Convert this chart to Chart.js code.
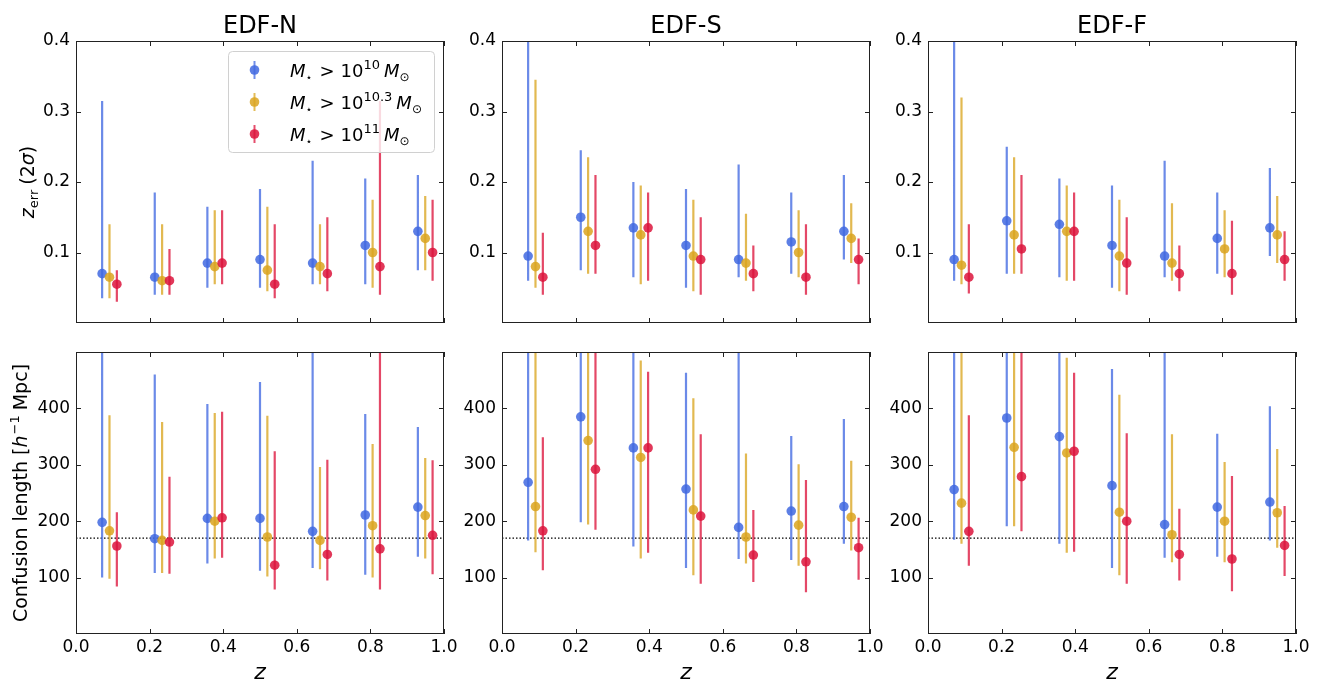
<!DOCTYPE html>
<html>
<head>
<meta charset="utf-8">
<script src="https://cdn.jsdelivr.net/npm/chart.js@4.4.0/dist/chart.umd.min.js"></script>
<style>
html, body { margin: 0; padding: 0; background: #fff; }
#wrap { position: relative; width: 1323px; height: 682px; }
#wrap canvas { position: absolute; left: 0; top: 0; }
</style>
</head>
<body>
<div id="wrap"></div>
<script>
// redshift bins, mass-cut offsets, ticks
const zBins = [0.071, 0.214, 0.357, 0.5, 0.643, 0.786, 0.929];
const massOffsets = [0, 0.02, 0.04];
const massLabels = ['10', '10.3', '11'];
const fields = ['EDF-N', 'EDF-S', 'EDF-F'];
const xTicks = [0, 0.2, 0.4, 0.6, 0.8, 1.0];
const zerrTicks = [0.1, 0.2, 0.3, 0.4];
const confTicks = [100, 200, 300, 400];
const confRef = 170;

// z_err (2 sigma); rows: M > 1e10, 1e10.3, 1e11
const zerrN    = [[0.070, 0.065, 0.085, 0.090, 0.085, 0.110, 0.130],
                  [0.065, 0.060, 0.080, 0.075, 0.080, 0.100, 0.120],
                  [0.055, 0.060, 0.085, 0.055, 0.070, 0.080, 0.100]];
const zerrN_lo = [[0.035, 0.040, 0.050, 0.050, 0.055, 0.055, 0.075],
                  [0.035, 0.040, 0.055, 0.045, 0.055, 0.050, 0.075],
                  [0.030, 0.040, 0.055, 0.035, 0.045, 0.040, 0.060]];
const zerrN_hi = [[0.315, 0.185, 0.165, 0.190, 0.230, 0.205, 0.210],
                  [0.140, 0.140, 0.160, 0.165, 0.140, 0.175, 0.180],
                  [0.075, 0.105, 0.160, 0.140, 0.150, 0.315, 0.175]];

const zerrS    = [[0.095, 0.150, 0.135, 0.110, 0.090, 0.115, 0.130],
                  [0.080, 0.130, 0.125, 0.095, 0.085, 0.100, 0.120],
                  [0.065, 0.110, 0.135, 0.090, 0.070, 0.065, 0.090]];
const zerrS_lo = [[0.060, 0.075, 0.065, 0.050, 0.065, 0.070, 0.090],
                  [0.050, 0.070, 0.055, 0.045, 0.060, 0.065, 0.085],
                  [0.040, 0.070, 0.060, 0.040, 0.045, 0.040, 0.055]];
const zerrS_hi = [[0.450, 0.245, 0.200, 0.190, 0.225, 0.185, 0.210],
                  [0.345, 0.235, 0.195, 0.175, 0.155, 0.160, 0.170],
                  [0.128, 0.210, 0.185, 0.150, 0.110, 0.140, 0.120]];

const zerrF    = [[0.090, 0.145, 0.140, 0.110, 0.095, 0.120, 0.135],
                  [0.082, 0.125, 0.130, 0.095, 0.085, 0.105, 0.125],
                  [0.065, 0.105, 0.130, 0.085, 0.070, 0.070, 0.090]];
const zerrF_lo = [[0.060, 0.070, 0.065, 0.050, 0.065, 0.070, 0.095],
                  [0.055, 0.070, 0.060, 0.045, 0.060, 0.065, 0.085],
                  [0.042, 0.070, 0.060, 0.040, 0.045, 0.040, 0.060]];
const zerrF_hi = [[0.450, 0.250, 0.205, 0.195, 0.230, 0.185, 0.220],
                  [0.320, 0.235, 0.195, 0.175, 0.170, 0.160, 0.180],
                  [0.140, 0.210, 0.185, 0.150, 0.110, 0.145, 0.130]];

// confusion length [h^-1 Mpc]
const confN    = [[198, 169, 205, 205, 182, 211, 225],
                  [183, 166, 200, 172, 166, 192, 210],
                  [156, 163, 206, 122, 141, 151, 175]];
const confN_lo = [[100, 108, 125, 112, 117, 105, 137],
                  [ 98, 108, 134, 102, 115, 100, 134],
                  [ 84, 107, 135,  79,  95,  79, 106]];
const confN_hi = [[560, 460, 408, 447, 560, 390, 367],
                  [388, 376, 392, 387, 296, 337, 312],
                  [216, 279, 394, 324, 309, 560, 308]];

const confS    = [[269, 385, 330, 257, 189, 218, 226],
                  [226, 343, 313, 220, 172, 193, 207],
                  [183, 292, 330, 209, 140, 128, 153]];
const confS_lo = [[166, 198, 155, 117, 133, 131, 160],
                  [145, 194, 134, 104, 125, 121, 148],
                  [113, 185, 144,  89,  92,  74,  96]];
const confS_hi = [[560, 560, 560, 463, 560, 351, 381],
                  [560, 560, 485, 418, 320, 301, 307],
                  [349, 560, 465, 354, 220, 273, 206]];

const confF    = [[256, 383, 350, 263, 194, 225, 234],
                  [232, 331, 321, 216, 176, 200, 215],
                  [182, 279, 324, 200, 141, 133, 157]];
const confF_lo = [[167, 191, 160, 117, 135, 137, 166],
                  [160, 191, 144, 104, 127, 127, 153],
                  [121, 182, 146,  89,  95,  76, 103]];
const confF_hi = [[560, 560, 560, 470, 560, 355, 404],
                  [560, 560, 490, 424, 354, 305, 328],
                  [388, 560, 463, 356, 222, 280, 227]];

const W = 1323, H = 682;
const colLeft = [76, 502, 928], colRight = [444, 870, 1296];
const rowTop = [41, 352], rowBottom = [323, 634];
const YW = 60, XH = 30;
const FONT = "'DejaVu Sans'";
const rgb = ['65,105,225', '218,165,32', '220,20,60'];

function richWidth(ctx, parts) {
  let w = 0;
  parts.forEach(p => { ctx.font = p.font; w += ctx.measureText(p.t).width + (p.gap || 0); });
  return w;
}
function drawRich(ctx, parts, x, y) {
  let cx = x;
  parts.forEach(p => {
    ctx.font = p.font;
    ctx.fillText(p.t, cx, y + (p.dy || 0));
    cx += ctx.measureText(p.t).width + (p.gap || 0);
  });
}

const zerrLabel = [
  {t: 'z', font: `italic 19px ${FONT}`},
  {t: 'err', font: `13px ${FONT}`, dy: 4, gap: 5},
  {t: '(2', font: `19px ${FONT}`},
  {t: 'σ', font: `italic 19px ${FONT}`},
  {t: ')', font: `19px ${FONT}`}
];
const confLabel = [
  {t: 'Confusion length [', font: `19px ${FONT}`},
  {t: 'h', font: `italic 19px ${FONT}`, gap: 1},
  {t: '−1', font: `13px ${FONT}`, dy: -8, gap: 5},
  {t: 'Mpc]', font: `19px ${FONT}`}
];
function legendParts(exp) {
  return [
    {t: 'M', font: `italic 18px ${FONT}`},
    {t: '⋆', font: `11px ${FONT}`, dy: 4, gap: 7},
    {t: '>', font: `18px ${FONT}`, gap: 6},
    {t: '10', font: `18px ${FONT}`},
    {t: exp, font: `13px ${FONT}`, dy: -8, gap: 4},
    {t: 'M', font: `italic 18px ${FONT}`},
    {t: '⊙', font: `12px ${FONT}`, dy: 4}
  ];
}

const decor = {
  id: 'decor',
  afterDatasetsDraw(chart, args, opts) {
    const {ctx, chartArea: a, scales: {x, y}} = chart;
    ctx.save();
    ctx.strokeStyle = '#222';
    ctx.lineWidth = 1;
    ctx.beginPath();
    x.ticks.forEach(t => {
      const px = Math.round(x.getPixelForValue(t.value)) + 0.5;
      ctx.moveTo(px, a.bottom); ctx.lineTo(px, a.bottom - 5);
      ctx.moveTo(px, a.top); ctx.lineTo(px, a.top + 5);
    });
    y.ticks.forEach(t => {
      const py = Math.round(y.getPixelForValue(t.value)) + 0.5;
      ctx.moveTo(a.left, py); ctx.lineTo(a.left + 5, py);
      ctx.moveTo(a.right, py); ctx.lineTo(a.right - 5, py);
    });
    ctx.stroke();
    ctx.strokeRect(Math.round(a.left) + 0.5, Math.round(a.top) + 0.5,
                   Math.round(a.right - a.left) - 1, Math.round(a.bottom - a.top) - 1);

    ctx.fillStyle = '#000';
    ctx.textBaseline = 'alphabetic';
    const cx = (a.left + a.right) / 2;
    if (opts.title) {
      ctx.font = `24px ${FONT}`;
      ctx.textAlign = 'center';
      ctx.fillText(opts.title, cx, 33);
    }
    ctx.textAlign = 'left';
    if (opts.xlabel) {
      ctx.font = `italic 22px ${FONT}`;
      ctx.textAlign = 'center';
      ctx.fillText('z', cx, 679);
      ctx.textAlign = 'left';
    }
    if (opts.ylabel) {
      const parts = opts.ylabel === 'zerr' ? zerrLabel : confLabel;
      const bx = opts.ylabel === 'zerr' ? 34 : 27;
      const w = richWidth(ctx, parts);
      ctx.save();
      ctx.translate(bx, (a.top + a.bottom) / 2);
      ctx.rotate(-Math.PI / 2);
      drawRich(ctx, parts, -w / 2, 0);
      ctx.restore();
    }
    if (opts.legend) {
      const lx = 228, ly = 51, lw = 206, lh = 101;
      ctx.beginPath();
      ctx.roundRect(lx + 0.5, ly + 0.5, lw, lh, 4);
      ctx.fillStyle = 'rgba(255,255,255,0.8)';
      ctx.fill();
      ctx.strokeStyle = '#d0d0d0';
      ctx.stroke();
      massLabels.forEach((lab, m) => {
        const yy = 70 + m * 32;
        ctx.strokeStyle = `rgba(${rgb[m]},0.75)`;
        ctx.lineWidth = 2;
        ctx.beginPath();
        ctx.moveTo(254.5, yy - 9); ctx.lineTo(254.5, yy + 9);
        ctx.stroke();
        ctx.fillStyle = `rgba(${rgb[m]},0.85)`;
        ctx.beginPath();
        ctx.arc(254.5, yy, 4.8, 0, Math.PI * 2);
        ctx.fill();
        ctx.fillStyle = '#000';
        drawRich(ctx, legendParts(lab), 290, yy + 7);
      });
    }
    ctx.restore();
  }
};

function buildDatasets(vals, lo, hi) {
  const ds = [];
  for (let m = 0; m < 3; m++) {
    const bars = [], pts = [];
    zBins.forEach((z, i) => {
      const xv = z + massOffsets[m];
      bars.push({x: xv, y: lo[m][i]}, {x: xv, y: hi[m][i]}, {x: xv, y: null});
      pts.push({x: xv, y: vals[m][i]});
    });
    ds.push({
      type: 'line', data: bars, showLine: true, spanGaps: false,
      borderColor: `rgba(${rgb[m]},0.78)`, borderWidth: 2.2,
      pointRadius: 0, clip: 0, order: 6 - 2 * m
    });
    ds.push({
      type: 'scatter', data: pts,
      backgroundColor: `rgba(${rgb[m]},0.85)`, borderWidth: 0,
      pointRadius: 4.8, clip: 0, order: 5 - 2 * m
    });
  }
  return ds;
}

const panels = [
  {r: 0, c: 0, v: zerrN, lo: zerrN_lo, hi: zerrN_hi},
  {r: 0, c: 1, v: zerrS, lo: zerrS_lo, hi: zerrS_hi},
  {r: 0, c: 2, v: zerrF, lo: zerrF_lo, hi: zerrF_hi},
  {r: 1, c: 0, v: confN, lo: confN_lo, hi: confN_hi},
  {r: 1, c: 1, v: confS, lo: confS_lo, hi: confS_hi},
  {r: 1, c: 2, v: confF, lo: confF_lo, hi: confF_hi}
];

const wrap = document.getElementById('wrap');
panels.forEach(p => {
  const canvas = document.createElement('canvas');
  canvas.width = W; canvas.height = H;
  canvas.style.width = W + 'px'; canvas.style.height = H + 'px';
  wrap.appendChild(canvas);

  const top = p.r === 0;
  const datasets = buildDatasets(p.v, p.lo, p.hi);
  if (!top) {
    datasets.push({
      type: 'line', data: [{x: 0, y: confRef}, {x: 1, y: confRef}],
      borderColor: '#000', borderWidth: 1.3, borderDash: [1.5, 2],
      pointRadius: 0, order: 7
    });
  }

  new Chart(canvas, {
    type: 'scatter',
    data: {datasets},
    options: {
      responsive: false,
      animation: false,
      events: [],
      layout: {padding: {
        left: colLeft[p.c] - YW, right: W - colRight[p.c],
        top: rowTop[p.r], bottom: H - rowBottom[p.r] - XH
      }},
      plugins: {
        legend: {display: false},
        tooltip: {enabled: false},
        decor: {
          title: top ? fields[p.c] : null,
          xlabel: !top,
          ylabel: p.c === 0 ? (top ? 'zerr' : 'conf') : null,
          legend: top && p.c === 0
        }
      },
      scales: {
        x: {
          type: 'linear', min: 0, max: 1,
          grid: {display: false, drawTicks: false},
          border: {display: false},
          afterBuildTicks: s => { s.ticks = xTicks.map(v => ({value: v})); },
          afterFit: s => { s.height = XH; },
          ticks: {
            display: !top, autoSkip: false, maxRotation: 0, padding: 3,
            color: '#000', font: {family: 'DejaVu Sans', size: 17},
            callback: v => Number(v).toFixed(1)
          }
        },
        y: {
          type: 'linear',
          min: 0, max: top ? 0.4 : 500,
          grid: {display: false, drawTicks: false},
          border: {display: false},
          afterBuildTicks: s => { s.ticks = (top ? zerrTicks : confTicks).map(v => ({value: v})); },
          afterFit: s => { s.width = YW; },
          ticks: {
            autoSkip: false, padding: 6,
            color: '#000', font: {family: 'DejaVu Sans', size: 17},
            callback: v => top ? Number(v).toFixed(1) : String(v)
          }
        }
      }
    },
    plugins: [decor]
  });
});
</script>
</body>
</html>
